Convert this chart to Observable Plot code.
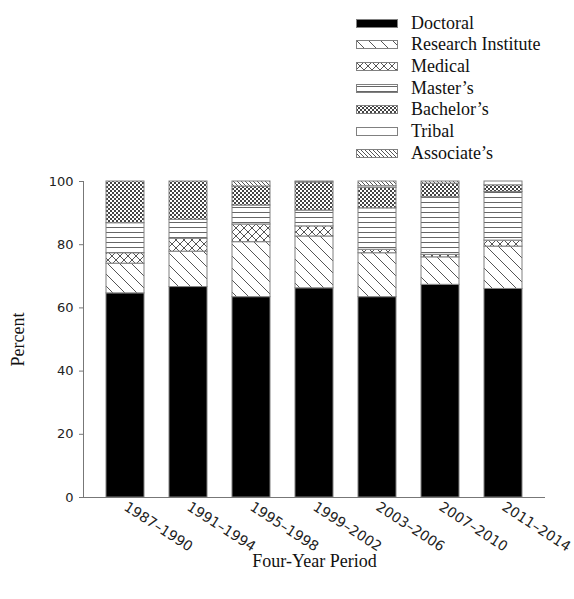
<!DOCTYPE html>
<html><head><meta charset="utf-8">
<script src="https://cdn.jsdelivr.net/npm/d3@7"></script>
<script src="https://cdn.jsdelivr.net/npm/@observablehq/plot@0.6"></script>
<style>
body{margin:0;background:#fff;}
#wrap{position:relative;width:574px;height:599px;overflow:hidden;}
#chart{position:absolute;left:0;top:0;}
#legend{position:absolute;left:0;top:0;}
.row{position:absolute;left:356px;height:22px;display:flex;align-items:center;font-family:"Liberation Serif","Times New Roman",serif;font-size:18px;color:#111;white-space:nowrap}
.row svg{margin-right:13px;flex:none}
g[aria-label="y-axis label"] text, g[aria-label="x-axis label"] text{font-family:"Liberation Serif","Times New Roman",serif;font-size:18px;fill:#111}
</style></head>
<body>
<svg width="0" height="0" style="position:absolute">
<defs>
<pattern id="pResearch" patternUnits="userSpaceOnUse" width="12" height="12"><rect width="12" height="12" fill="#fff"/><path d="M-3,9L3,15M0,0L12,12M9,-3L15,3" stroke="#555" stroke-width="1" fill="none"/></pattern>
<pattern id="pMedical" patternUnits="userSpaceOnUse" width="8" height="8"><rect width="8" height="8" fill="#fff"/><path d="M0,0L8,8M8,0L0,8" stroke="#555" stroke-width="1" fill="none"/></pattern>
<pattern id="pMasters" patternUnits="userSpaceOnUse" width="6" height="5"><rect width="6" height="5" fill="#fff"/><path d="M0,2.5H6" stroke="#666" stroke-width="1"/></pattern>
<pattern id="pBachelors" patternUnits="userSpaceOnUse" width="4" height="4"><rect width="4" height="4" fill="#fff"/><rect width="2" height="2" fill="#444"/><rect x="2" y="2" width="2" height="2" fill="#444"/></pattern>
<pattern id="pAssociates" patternUnits="userSpaceOnUse" width="4" height="4"><rect width="4" height="4" fill="#fff"/><path d="M-1,3L1,5M0,0L4,4M3,-1L5,1" stroke="#555" stroke-width="1" fill="none"/></pattern>
</defs></svg>
<div id="wrap"><div id="chart"></div><div id="legend"></div></div>
<script>
const periods = ["1987–1990","1991–1994","1995–1998","1999–2002","2003–2006","2007–2010","2011–2014"];
const seriesNames = ["Doctoral","Research Institute","Medical","Master’s","Bachelor’s","Tribal","Associate’s"];
const doctoral   = [64.6, 66.6, 63.4, 66.2, 63.4, 67.3, 66.0];
const research   = [9.4, 11.2, 17.4, 16.4, 13.9, 8.7, 13.4];
const medical    = [3.3, 4.1, 5.6, 3.2, 1.1, 0.8, 1.9];
const masters    = [9.5, 6.0, 6.0, 5.0, 13.1, 18.2, 15.4];
const bachelors  = [13.2, 12.1, 6.0, 8.9, 6.5, 4.3, 2.1];
const tribal     = [0, 0, 0, 0, 0.5, 0, 1.2];
const associates = [0, 0, 1.6, 0.3, 1.5, 0.7, 0];
const yTicks = [0, 20, 40, 60, 80, 100];
const fills = ["#000","url(#pResearch)","url(#pMedical)","url(#pMasters)","url(#pBachelors)","#fff","url(#pAssociates)"];

const values = [doctoral, research, medical, masters, bachelors, tribal, associates];
const data = [];
periods.forEach((p, i) => seriesNames.forEach((s, j) => {
  const v = values[j][i];
  if (v > 0) data.push({period: p, type: s, value: v});
}));

const chart = Plot.plot({
  width: 574, height: 599,
  marginTop: 181, marginBottom: 102, marginLeft: 83, marginRight: 29,
  style: {fontFamily: "'DejaVu Sans', sans-serif", fontSize: "13px", color: "#222", background: "#fff", overflow: "visible"},
  x: {domain: periods, paddingInner: 0.397, paddingOuter: 0.336},
  y: {domain: [0, 100]},
  color: {domain: seriesNames, range: fills},
  marks: [
    Plot.barY(data, {x: "period", y: "value", fill: "type", z: "type", order: seriesNames, stroke: "#808080", strokeWidth: 1}),
    Plot.ruleY([0], {stroke: "#777"}),
    Plot.frame({anchor: "left", stroke: "#777"}),
    Plot.axisY({ticks: yTicks, tickSize: 4, tickPadding: 6, stroke: "#777", fill: "#222", label: "Percent", labelAnchor: "center", labelOffset: 72, labelArrow: "none"}),
    Plot.axisX({tickSize: 0, tickRotate: 33, tickPadding: 8, fontSize: 14, fill: "#222", label: "Four-Year Period", labelAnchor: "center", labelOffset: 69, labelArrow: "none"})
  ]
});
document.getElementById("chart").appendChild(chart);

const legend = document.getElementById("legend");
seriesNames.forEach((s, j) => {
  const row = document.createElement("div");
  row.className = "row";
  row.style.top = (12 + 21.7 * j) + "px";
  row.innerHTML = `<svg width="42" height="9"><rect x="0.5" y="0.5" width="41" height="8" fill="${fills[j]}" stroke="#808080"/></svg><span>${s}</span>`;
  legend.appendChild(row);
});
</script>
</body></html>
